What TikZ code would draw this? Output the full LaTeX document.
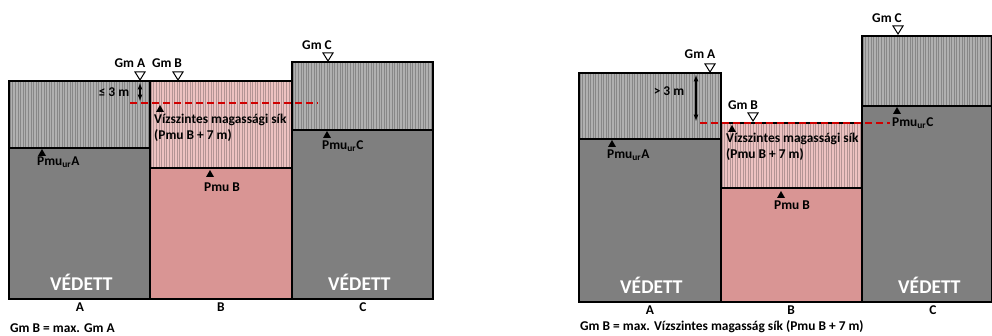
\documentclass[tikz,border=0pt]{standalone}
\usepackage{fontspec}
\setmainfont{Carlito}
\usetikzlibrary{positioning}

\definecolor{plotgray}{HTML}{7F7F7F}
\definecolor{hatchgray}{HTML}{B0B0B0}
\definecolor{hatchgrayline}{HTML}{878787}
\definecolor{plotpink}{HTML}{D99594}
\definecolor{hatchpink}{HTML}{EDC2C1}
\definecolor{hatchpinkline}{HTML}{B39494}
\definecolor{sikred}{HTML}{D00000}

\tikzset{
  grayhatch/.style={fill=hatchgray},
  grayhatch lines/.style={draw=hatchgrayline, line width=0.9pt},
  pinkhatch/.style={fill=hatchpink},
  pinkhatch lines/.style={draw=hatchpinkline, line width=0.9pt},
  plotline/.style={draw=black, line width=1.2pt},
  siklevel/.style={draw=sikred, line width=2.6pt, dash pattern=on 7pt off 4pt},
  dimarrow/.style={<->, >=latex, line width=1.2pt},
  lbl/.style={font=\fontsize{13.4}{15.5}\selectfont\bfseries, inner sep=0pt},
  vedett/.style={font=\fontsize{19.5}{22}\selectfont\bfseries, text=white,
    inner sep=0pt, anchor=west},
}

% hatched part of a plot: x1,y1,x2,y2,style
\newcommand{\hatchbox}[5]{%
  \fill[#5] (#1,#2) rectangle (#3,#4);
  \pgfmathsetmacro{\hstart}{#1+1.3}
  \pgfmathsetmacro{\hnext}{#1+3.9}
  \foreach \hx in {\hstart,\hnext,...,#3} \draw[#5 lines] (\hx,#2) -- (\hx,#4);
}
% Gm: open triangle, tip at the point
\newcommand{\gmmark}[1]{%
  \draw[fill=white, line width=1pt] #1 -- ++(-5,-8) -- ++(10,0) -- cycle;
}
% Pmu: filled triangle, tip at the point
\newcommand{\pmumark}[1]{%
  \fill[black] #1 -- ++(-4,7) -- ++(8,0) -- cycle;
}

\begin{document}
\begin{tikzpicture}[x=1pt, y=-1pt]
  \useasboundingbox (0,0) rectangle (992,336);

  % ---- left: Gm B = max. Gm A ----
  \hatchbox{9}{81}{150}{148}{grayhatch}
  \fill[plotgray] (9,148) rectangle (150,299);
  \hatchbox{150}{81}{292}{168}{pinkhatch}
  \fill[plotpink] (150,168) rectangle (292,299);
  \hatchbox{292}{62}{433}{130}{grayhatch}
  \fill[plotgray] (292,130) rectangle (433,299);
  \draw[plotline] (9,81) rectangle (150,299) (9,148) -- (150,148);
  \draw[plotline] (150,81) rectangle (292,299) (150,168) -- (292,168);
  \draw[plotline] (292,62) rectangle (433,299) (292,130) -- (433,130);

  % horizontal plane
  \coordinate (sikLa) at (130,103);
  \coordinate (sikLb) at (318,103);
  \draw[siklevel] (sikLa) -- (sikLb);

  % Gm markers
  \gmmark{(140,80)}
  \gmmark{(178,80)}
  \gmmark{(328,61)}
  \node[lbl] (gmAL) at (130,63) {Gm A};
  \node[lbl] (gmBL) at (167,63) {Gm B};
  \node[lbl] (gmCL) at (317,45) {Gm C};

  % <= 3 m
  \coordinate (dimLt) at (140,83);
  \coordinate (dimLb) at (140,101);
  \draw[dimarrow] (dimLt) -- (dimLb);
  \node[lbl] (dimLL) at (114,92) {≤ 3 m};

  % Pmu markers
  \pmumark{(160,105)}
  \node[lbl, anchor=west, align=left] (sikL) at (154,128)
    {Vízszintes magassági sík\\(Pmu B + 7 m)};
  \pmumark{(42,149)}
  \node[lbl, anchor=west] (pmuAL) at (37,162) {Pmu\textsubscript{ur}A};
  \pmumark{(210,170)}
  \node[lbl] (pmuBL) at (222,187) {Pmu B};
  \pmumark{(327,131)}
  \node[lbl, anchor=west] (pmuCL) at (322,146) {Pmu\textsubscript{ur}C};

  \node[vedett] (vedAL) at (50,282) {VÉDETT};
  \node[vedett] (vedCL) at (328,282) {VÉDETT};
  \node[lbl] (plotAL) at (80,307) {A};
  \node[lbl] (plotBL) at (221,307) {B};
  \node[lbl] (plotCL) at (363,307) {C};
  \node[lbl, anchor=west] (noteL) at (10,328) {Gm B = max. Gm A};

  % ---- right: Gm B = max. horizontal plane ----
  \hatchbox{579}{73}{721}{139}{grayhatch}
  \fill[plotgray] (579,139) rectangle (721,302);
  \hatchbox{721}{123}{862}{188}{pinkhatch}
  \fill[plotpink] (721,188) rectangle (862,302);
  \hatchbox{862}{36}{991.4}{106}{grayhatch}
  \fill[plotgray] (862,106) rectangle (991.4,302);
  \draw[plotline] (579,73) rectangle (721,302) (579,139) -- (721,139);
  \draw[plotline] (721,123) rectangle (862,302) (721,188) -- (862,188);
  \draw[plotline] (862,36) rectangle (991.4,302) (862,106) -- (991.4,106);

  \coordinate (sikRa) at (700,123);
  \coordinate (sikRb) at (890,123);
  \draw[siklevel] (sikRa) -- (sikRb);

  \gmmark{(710,72)}
  \gmmark{(753,121)}
  \gmmark{(898,34)}
  \node[lbl] (gmAR) at (700,54) {Gm A};
  \node[lbl] (gmBR) at (743,105) {Gm B};
  \node[lbl] (gmCR) at (887,18) {Gm C};

  % > 3 m
  \coordinate (dimRt) at (696,75);
  \coordinate (dimRb) at (696,121);
  \draw[dimarrow] (dimRt) -- (dimRb);
  \node[lbl] (dimRL) at (669,91) {> 3 m};

  \pmumark{(732,125)}
  \node[lbl, anchor=west, align=left] (sikR) at (726,147)
    {Vízszintes magassági sík\\(Pmu B + 7 m)};
  \pmumark{(612,140)}
  \node[lbl, anchor=west] (pmuAR) at (607,155) {Pmu\textsubscript{ur}A};
  \pmumark{(781,191)}
  \node[lbl] (pmuBR) at (792,205) {Pmu B};
  \pmumark{(897,107)}
  \node[lbl, anchor=west] (pmuCR) at (892,123) {Pmu\textsubscript{ur}C};

  \node[vedett] (vedAR) at (620,285) {VÉDETT};
  \node[vedett] (vedCR) at (898,285) {VÉDETT};
  \node[lbl] (plotAR) at (650,310) {A};
  \node[lbl] (plotBR) at (791,310) {B};
  \node[lbl] (plotCR) at (933,310) {C};
  \node[lbl, anchor=west] (noteR) at (580,327)
    {Gm B = max. Vízszintes magasság sík (Pmu B + 7 m)};
\end{tikzpicture}
\end{document}
